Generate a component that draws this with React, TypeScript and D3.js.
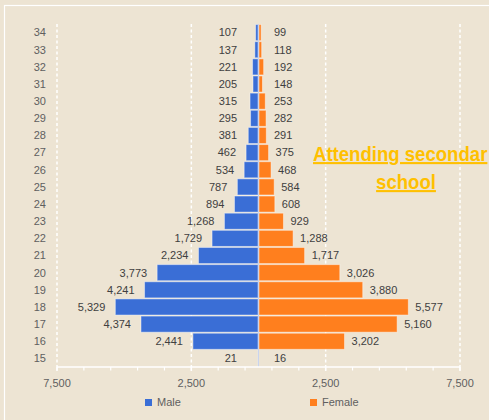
import React from "react";
import * as d3 from "d3";

const ages = [34, 33, 32, 31, 30, 29, 28, 27, 26, 25, 24, 23, 22, 21, 20, 19, 18, 17, 16, 15];
const maleValues = [107, 137, 221, 205, 315, 295, 381, 462, 534, 787, 894, 1268, 1729, 2234, 3773, 4241, 5329, 4374, 2441, 21];
const femaleValues = [99, 118, 192, 148, 253, 282, 291, 375, 468, 584, 608, 929, 1288, 1717, 3026, 3880, 5577, 5160, 3202, 16];
const majorTicks = [-7500, -2500, 2500, 7500];
const minorTicks = d3.range(-7500, 7501, 1000);
const seriesNames = ["Male", "Female"];
const titleLines = ["Attending secondar", "school"];

const W = 489;
const H = 420;
const BG = "#EDE4D3";
const BLUE = "#3A6ED6";
const ORANGE = "#FF7F1E";
const GOLD = "#FFC000";
const AXIS_TXT = "#5F5F5F";
const LABEL_TXT = "#404040";
const FONT = "'Liberation Sans', Arial, sans-serif";

export default function App() {
  const x = d3.scaleLinear().domain([-7500, 7500]).range([57, 460]);
  const y = d3.scaleBand<number>().domain(ages).range([24, 367]).paddingInner(0.06).paddingOuter(0.03);
  const fmt = d3.format(",");
  const x0 = x(0);
  const bh = y.bandwidth();
  const plotTop = 24;
  const plotBottom = 367;
  const titleLayout = [
    { x: 313, y: 161, anchor: "start" },
    { x: 406, y: 189, anchor: "middle" },
  ];

  return (
    <svg width={W} height={H} style={{ position: "absolute", left: 0, top: 0, display: "block" }} fontFamily={FONT}>
      <rect x={0} y={0} width={W} height={H} fill={BG} />
      <rect x={4.5} y={5.5} width={W + 10} height={H + 10} fill="none" stroke="#FFFFFF" strokeWidth={1.2} />

      {/* gridlines */}
      {majorTicks.map((t) => (
        <line key={"g" + t} x1={x(t)} x2={x(t)} y1={plotTop} y2={plotBottom} stroke="#FFFFFF" strokeWidth={1.5} strokeDasharray="3,2.5" />
      ))}

      {/* bars */}
      {ages.map((a, i) => (
        <g key={"b" + a}>
          <rect x={x(-maleValues[i])} y={y(a)} width={x0 - 0.5 - x(-maleValues[i])} height={bh} fill={BLUE} stroke="#FFFFFF" strokeOpacity={0.45} strokeWidth={1} />
          <rect x={x0 + 0.5} y={y(a)} width={x(femaleValues[i]) - x0 - 0.5} height={bh} fill={ORANGE} stroke="#FFFFFF" strokeOpacity={0.45} strokeWidth={1} />
        </g>
      ))}

      {/* center axis line */}
      <line x1={x0} x2={x0} y1={plotTop} y2={plotBottom} stroke="#C9D4EE" strokeWidth={1} />

      {/* bottom axis */}
      <line x1={x(-7500)} x2={x(7500)} y1={plotBottom} y2={plotBottom} stroke="#FFFFFF" strokeWidth={1.5} />
      {minorTicks.map((t) => (
        <line key={"t" + t} x1={x(t)} x2={x(t)} y1={plotBottom} y2={plotBottom + 3.5} stroke="#FFFFFF" strokeWidth={1.2} />
      ))}
      {majorTicks.map((t) => (
        <line key={"mt" + t} x1={x(t)} x2={x(t)} y1={plotBottom} y2={plotBottom + 4} stroke="#FFFFFF" strokeWidth={1.5} />
      ))}
      {majorTicks.map((t) => (
        <text key={"tl" + t} x={x(t)} y={387} textAnchor="middle" fontSize={11} fill={AXIS_TXT}>
          {fmt(Math.abs(t))}
        </text>
      ))}

      {/* category labels */}
      {ages.map((a) => (
        <text key={"c" + a} x={46} y={(y(a) as number) + bh / 2} dy="0.35em" textAnchor="end" fontSize={11} fill={AXIS_TXT}>
          {a}
        </text>
      ))}

      {/* data labels */}
      {ages.map((a, i) => (
        <g key={"l" + a}>
          <text x={Math.min(x(-maleValues[i]) - 10, 237)} y={(y(a) as number) + bh / 2} dy="0.35em" textAnchor="end" fontSize={11} fill={LABEL_TXT}>
            {fmt(maleValues[i])}
          </text>
          <text x={Math.max(x(femaleValues[i]) + 7, 274)} y={(y(a) as number) + bh / 2} dy="0.35em" textAnchor="start" fontSize={11} fill={LABEL_TXT}>
            {fmt(femaleValues[i])}
          </text>
        </g>
      ))}

      {/* title */}
      {titleLines.map((t, i) => (
        <g key={"tt" + i} transform={`translate(${titleLayout[i].x},${titleLayout[i].y}) scale(0.885,1)`}>
          <text x={0} y={0} textAnchor={titleLayout[i].anchor} fontSize={21} fontWeight="bold" fill={GOLD} textDecoration="underline">
            {t}
          </text>
        </g>
      ))}

      {/* legend */}
      <rect x={145} y={399} width={7} height={7} fill={BLUE} />
      <text x={157} y={406} fontSize={11} fill={AXIS_TXT}>{seriesNames[0]}</text>
      <rect x={310} y={399} width={7} height={7} fill={ORANGE} />
      <text x={322} y={406} fontSize={11} fill={AXIS_TXT}>{seriesNames[1]}</text>
    </svg>
  );
}
